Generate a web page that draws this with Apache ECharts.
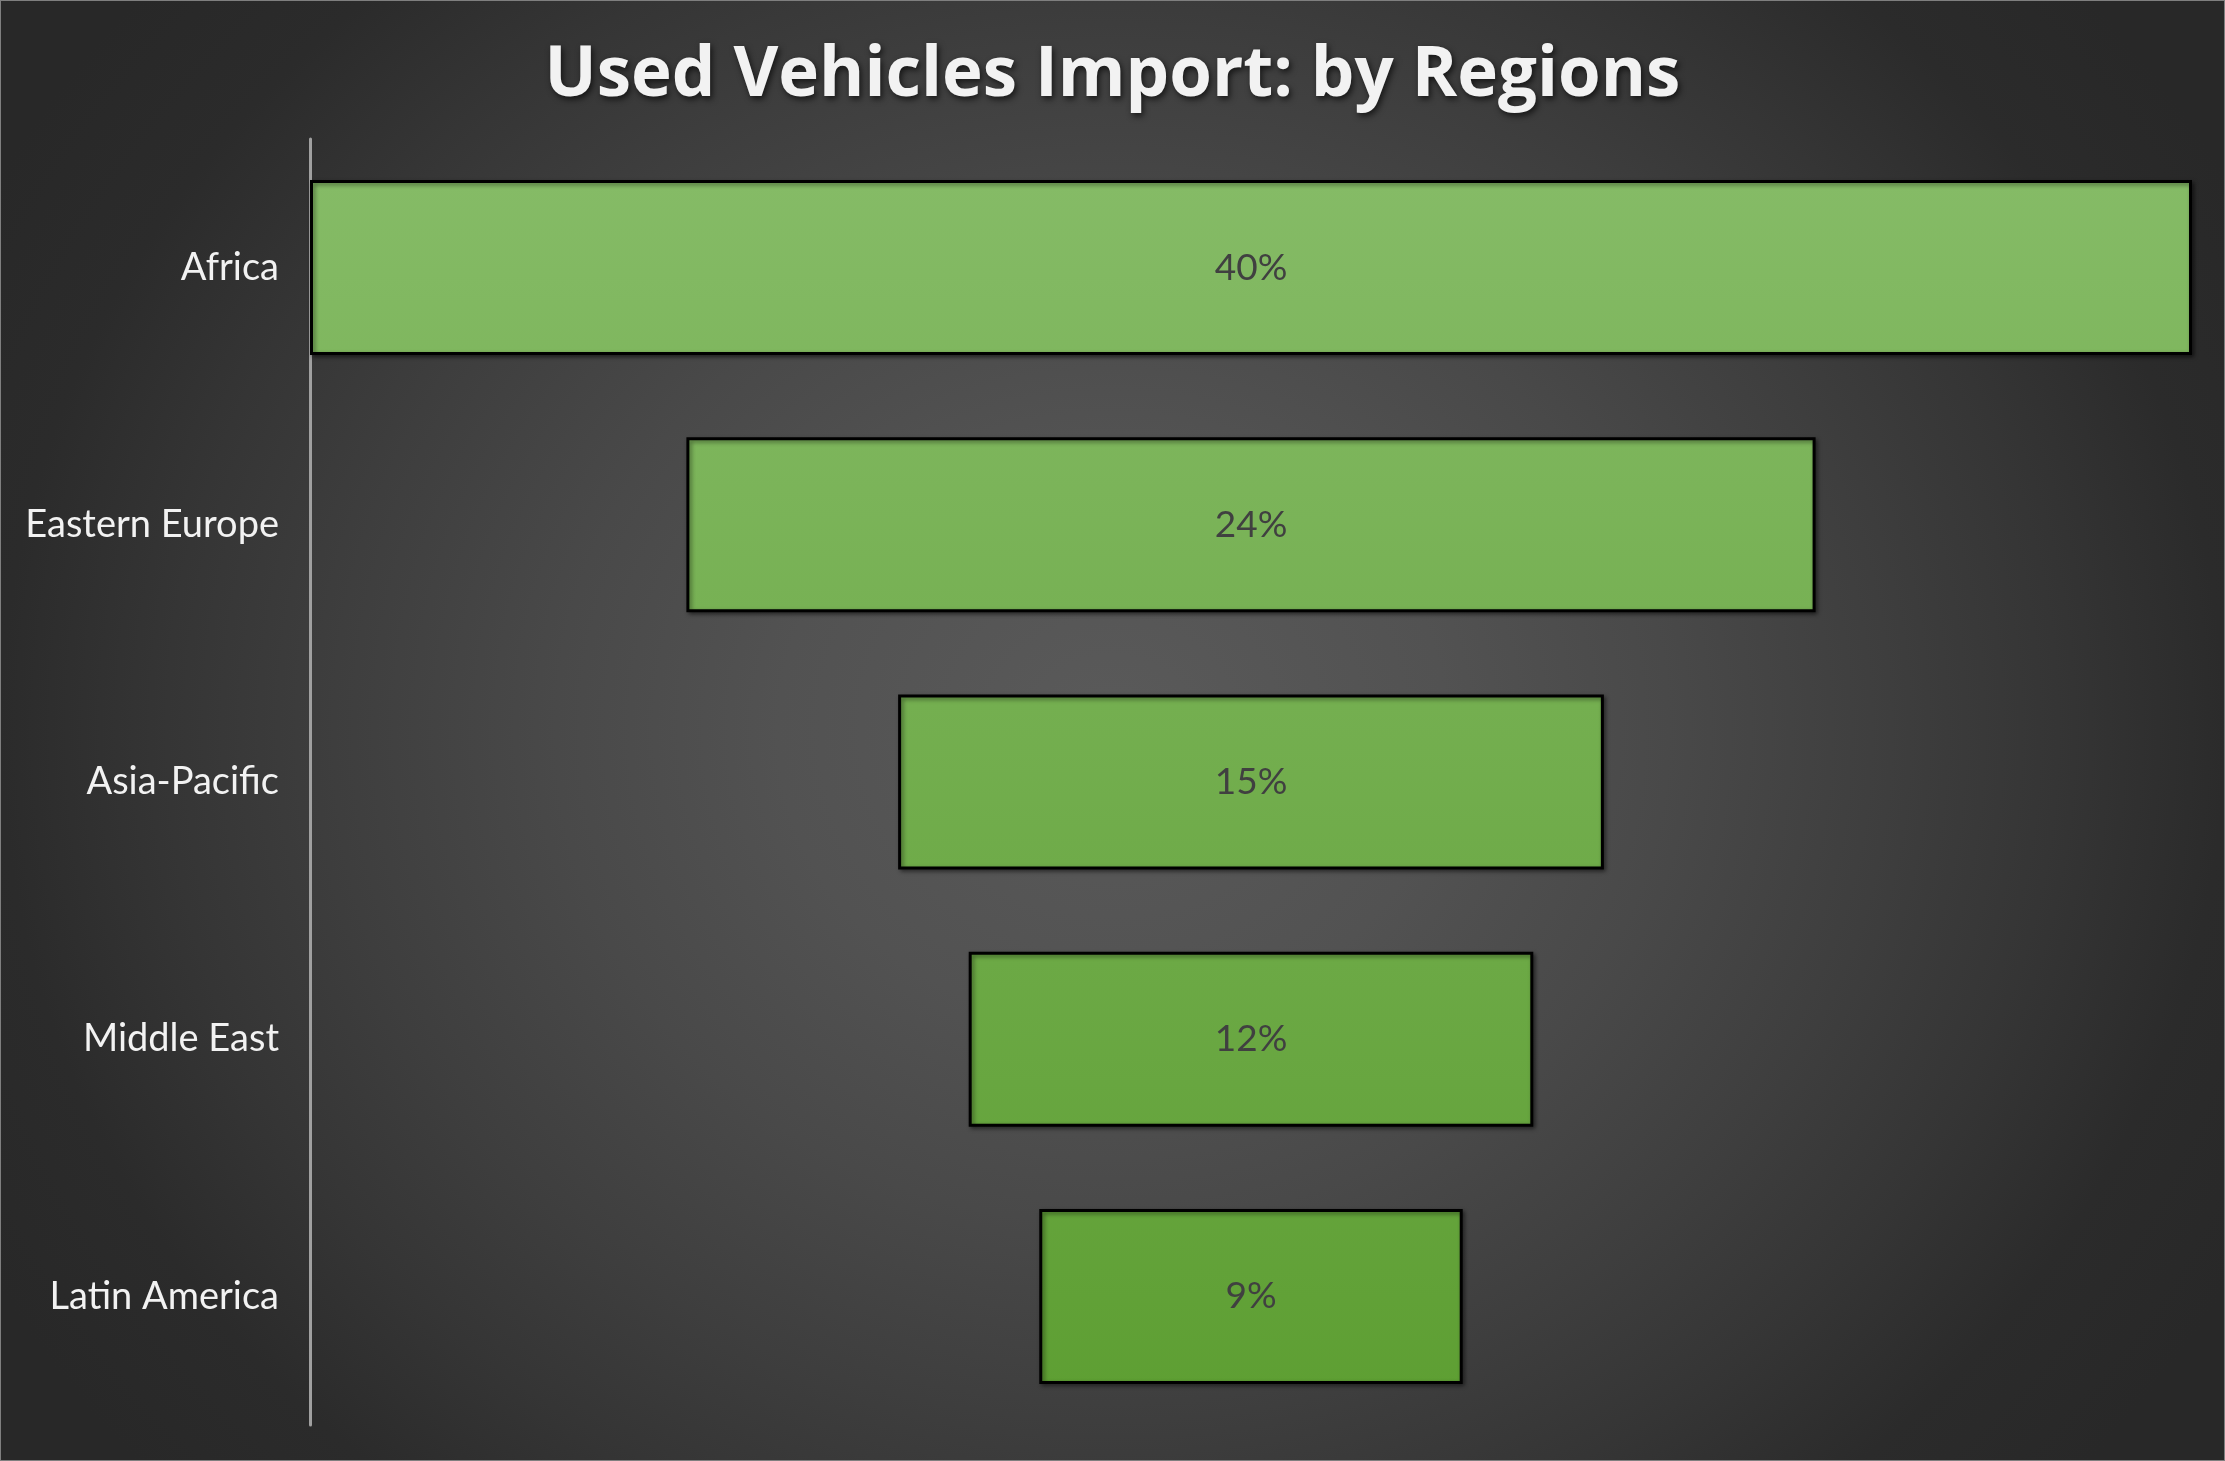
<!DOCTYPE html>
<html>
<head>
<meta charset="utf-8">
<script src="https://cdn.jsdelivr.net/npm/echarts@6/dist/echarts.min.js"></script>
<style>
  html, body { margin: 0; padding: 0; background: #282828; }
  #chart {
    width: 2225px; height: 1461px; box-sizing: border-box;
    border: 1px solid #7f7f7f;
    background: radial-gradient(1112px 986px at 50% 50%, #5a5a5a 0%, #525252 30%, #494949 50%, #3e3e3e 70%, #353535 85%, #2b2b2b 100%, #282828 115%);
  }
</style>
</head>
<body>
<div id="chart"></div>
<script>
const titleText = 'Used Vehicles Import: by Regions';
const categories = ['Africa', 'Eastern Europe', 'Asia-Pacific', 'Middle East', 'Latin America'];
const shares = [40, 24, 15, 12, 9];
const axisMax = 40;

const offsets = shares.map(v => (axisMax - v) / 2);

const chart = echarts.init(document.getElementById('chart'), null, { renderer: 'canvas' });
chart.setOption({
  backgroundColor: 'transparent',
  animation: false,
  title: {
    text: titleText,
    left: 'center',
    top: 36,
    textStyle: {
      fontFamily: 'Open Sans',
      fontWeight: 'bold',
      fontSize: 69,
      color: '#f2f2f2',
      textShadowColor: 'rgba(0,0,0,0.65)',
      textShadowBlur: 6,
      textShadowOffsetX: 2,
      textShadowOffsetY: 3
    }
  },
  grid: { left: 309, right: 32, top: 138, bottom: 35, containLabel: false },
  xAxis: {
    type: 'value', min: 0, max: axisMax, show: false
  },
  yAxis: {
    type: 'category',
    data: categories,
    inverse: true,
    axisLine: { show: true, lineStyle: { color: '#a0a0a0', width: 3 } },
    axisTick: { show: false },
    splitLine: { show: false },
    axisLabel: {
      color: '#f2f2f2',
      fontFamily: 'Lato',
      fontSize: 38,
      margin: 31
    }
  },
  series: [
    {
      name: 'offset',
      type: 'bar',
      stack: 'funnel',
      data: offsets,
      barWidth: 175,
      itemStyle: { color: 'transparent', borderWidth: 0 },
      emphasis: { disabled: true },
      silent: true
    },
    {
      name: 'Share',
      type: 'bar',
      stack: 'funnel',
      data: shares,
      barWidth: 175,
      itemStyle: {
        color: {
          type: 'linear', x: 0, y: 180, x2: 0, y2: 1390, global: true,
          colorStops: [
            { offset: 0, color: '#85bb66' },
            { offset: 1, color: '#5e9f33' }
          ]
        },
        borderColor: '#000000',
        borderWidth: 3,
        shadowColor: 'rgba(0,0,0,0.45)',
        shadowBlur: 4,
        shadowOffsetX: 2,
        shadowOffsetY: 2
      },
      label: {
        show: true,
        position: 'inside',
        formatter: '{c}%',
        color: '#404040',
        fontFamily: 'Lato',
        fontSize: 37
      }
    }
  ]
});
</script>
</body>
</html>
